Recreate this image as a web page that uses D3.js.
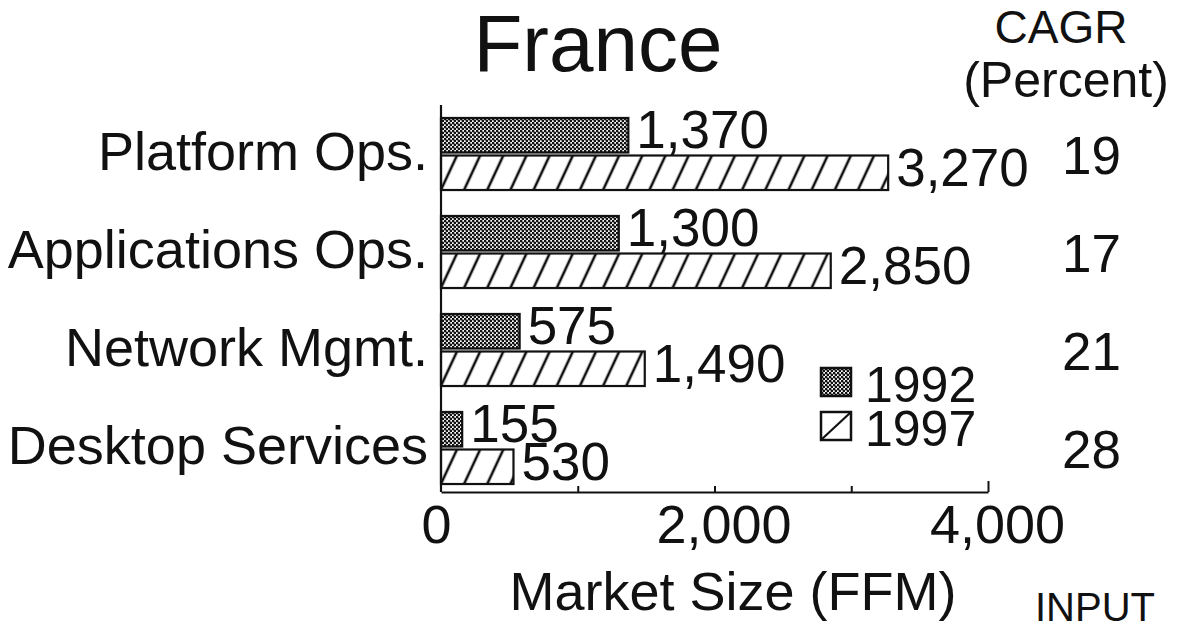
<!DOCTYPE html>
<html>
<head>
<meta charset="utf-8">
<script src="https://cdn.jsdelivr.net/npm/d3@7"></script>
<style>
  html, body { margin: 0; padding: 0; background: #fff; }
  svg { display: block; }
  text { font-family: "Liberation Sans", Arial, Helvetica, sans-serif; fill: #111; }
</style>
</head>
<body>
<svg id="chart" width="1185" height="631"></svg>
<script>
// values
const categories = ["Platform Ops.", "Applications Ops.", "Network Mgmt.", "Desktop Services"]
const years = ["1992", "1997"]
const values1992 = [1370, 1300, 575, 155]
const values1997 = [3270, 2850, 1490, 530]
const cagr = [19, 17, 21, 28]
const xTicks = [0, 1000, 2000, 3000, 4000]
const xTickLabels = [0, 2000, 4000]

let width = 1185,
    height = 631

let fontSize = 53

const svg = d3.select("#chart")

let rows = categories.map((c, i) => ({
    label: c,
    cagr: cagr[i],
    bars: [
        { year: "1992", value: values1992[i] },
        { year: "1997", value: values1997[i] }
    ]
}))

let x = d3.scaleLinear()
    .domain([0, 4000])
    .range([441, 988])

let y = d3.scaleBand()
    .domain(categories)
    .range([105, 497])
    .paddingInner(0.265)
    .paddingOuter(0.1325)

let yInner = d3.scaleBand()
    .domain(years)
    .range([0, y.bandwidth()])
    .paddingInner(0.08)

// fill patterns: stipple for 1992, hatch for 1997
const defs = svg.append("defs")

let dots = defs.append("pattern")
    .attr("id", "dots")
    .attr("patternUnits", "userSpaceOnUse")
    .attr("width", 4)
    .attr("height", 4)
dots.append("rect").attr("width", 4).attr("height", 4).attr("fill", "#fff")
dots.append("circle").attr("cx", 1).attr("cy", 1).attr("r", 1.4).attr("fill", "#111")
dots.append("circle").attr("cx", 3).attr("cy", 3).attr("r", 1.4).attr("fill", "#111")

let hatch = defs.append("pattern")
    .attr("id", "hatch")
    .attr("patternUnits", "userSpaceOnUse")
    .attr("width", 21)
    .attr("height", 21)
    .attr("patternTransform", "rotate(25)")
hatch.append("rect").attr("width", 21).attr("height", 21).attr("fill", "#fff")
hatch.append("line")
    .attr("x1", 10).attr("y1", 0)
    .attr("x2", 10).attr("y2", 21)
    .attr("stroke", "#111")
    .attr("stroke-width", 2.6)

let fillFor = (year) => year === "1992" ? "url(#dots)" : "url(#hatch)"

// title
svg.append("text")
    .attr("x", 598)
    .attr("y", 71)
    .attr("text-anchor", "middle")
    .attr("font-size", 80)
    .text("France")

// CAGR column header
svg.append("text")
    .attr("x", 1061)
    .attr("y", 43)
    .attr("text-anchor", "middle")
    .attr("font-size", 46)
    .text("CAGR")
svg.append("text")
    .attr("x", 1066)
    .attr("y", 97)
    .attr("text-anchor", "middle")
    .attr("font-size", 50)
    .text("(Percent)")

// bars
let groups = svg.append("g")
    .attr("class", "groups")
    .selectAll("g.group")
    .data(rows)
    .join("g")
    .attr("class", "group")
    .attr("transform", (d) => "translate(0," + y(d.label) + ")")

groups.selectAll("rect.bar")
    .data((d) => d.bars)
    .join("rect")
    .attr("class", "bar")
    .attr("x", x(0))
    .attr("y", (d) => yInner(d.year))
    .attr("width", (d) => x(d.value) - x(0))
    .attr("height", yInner.bandwidth())
    .style("fill", (d) => fillFor(d.year))
    .style("stroke", "#111")
    .style("stroke-width", 2.2)

// value labels
groups.selectAll("text.value")
    .data((d) => d.bars)
    .join("text")
    .attr("class", "value")
    .attr("x", (d) => x(d.value) + 8)
    .attr("y", (d) => yInner(d.year) + yInner.bandwidth() / 2 + 13)
    .attr("font-size", fontSize)
    .text((d) => d3.format(",")(d.value))

// category labels
svg.append("g")
    .selectAll("text")
    .data(rows)
    .join("text")
    .attr("x", 428)
    .attr("y", (d) => y(d.label) + y.bandwidth() / 2 + 16)
    .attr("text-anchor", "end")
    .attr("font-size", 54)
    .text((d) => d.label)

// CAGR values
svg.append("g")
    .selectAll("text")
    .data(rows)
    .join("text")
    .attr("x", 1062)
    .attr("y", (d) => y(d.label) + y.bandwidth() / 2 + 20)
    .attr("font-size", fontSize)
    .text((d) => d.cagr)

// y axis line
svg.append("line")
    .attr("x1", x(0)).attr("x2", x(0))
    .attr("y1", 105).attr("y2", 492)
    .style("stroke", "#111")
    .style("stroke-width", 2.2)

// x axis
let xAxis = d3.axisBottom(x)
    .tickValues(xTicks)
    .tickSizeInner(-6)
    .tickSizeOuter(0)
    .tickFormat((d) => xTickLabels.includes(d) ? d3.format(",")(d) : "")

let gx = svg.append("g")
    .attr("transform", "translate(0,492)")
    .call(xAxis)

gx.select(".domain").style("stroke", "#111").style("stroke-width", 2.2)
gx.selectAll(".tick line").style("stroke", "#111").style("stroke-width", 2)
gx.selectAll(".tick").filter((d) => d === 4000).select("line").attr("y2", -11)
gx.selectAll(".tick").filter((d) => d === 0).select("line").remove()
gx.selectAll(".tick text")
    .attr("y", 51)
    .attr("dy", 0)
    .attr("dx", (d) => d === 0 ? -5 : 9)
    .attr("font-size", 54)
    .attr("font-family", null)
    .style("fill", "#111")

svg.append("text")
    .attr("x", 733)
    .attr("y", 610)
    .attr("text-anchor", "middle")
    .attr("font-size", 54)
    .text("Market Size (FFM)")

// legend
let legend = svg.append("g")
    .attr("class", "legend")
    .selectAll("g")
    .data(years)
    .join("g")
    .attr("transform", (d, i) => "translate(821," + (368 + i * 44) + ")")

legend.append("rect")
    .attr("width", 30)
    .attr("height", 28)
    .style("fill", (d) => d === "1992" ? "url(#dots)" : "#fff")
    .style("stroke", "#111")
    .style("stroke-width", 2.5)

legend.filter((d) => d === "1997")
    .append("line")
    .attr("x1", 1).attr("y1", 27)
    .attr("x2", 29).attr("y2", 1)
    .style("stroke", "#111")
    .style("stroke-width", 2.2)

legend.append("text")
    .attr("x", 44)
    .attr("y", 34)
    .attr("font-size", 50)
    .text((d) => d)

svg.append("text")
    .attr("x", 1035)
    .attr("y", 621)
    .attr("font-size", 40)
    .text("INPUT")
</script>
</body>
</html>
